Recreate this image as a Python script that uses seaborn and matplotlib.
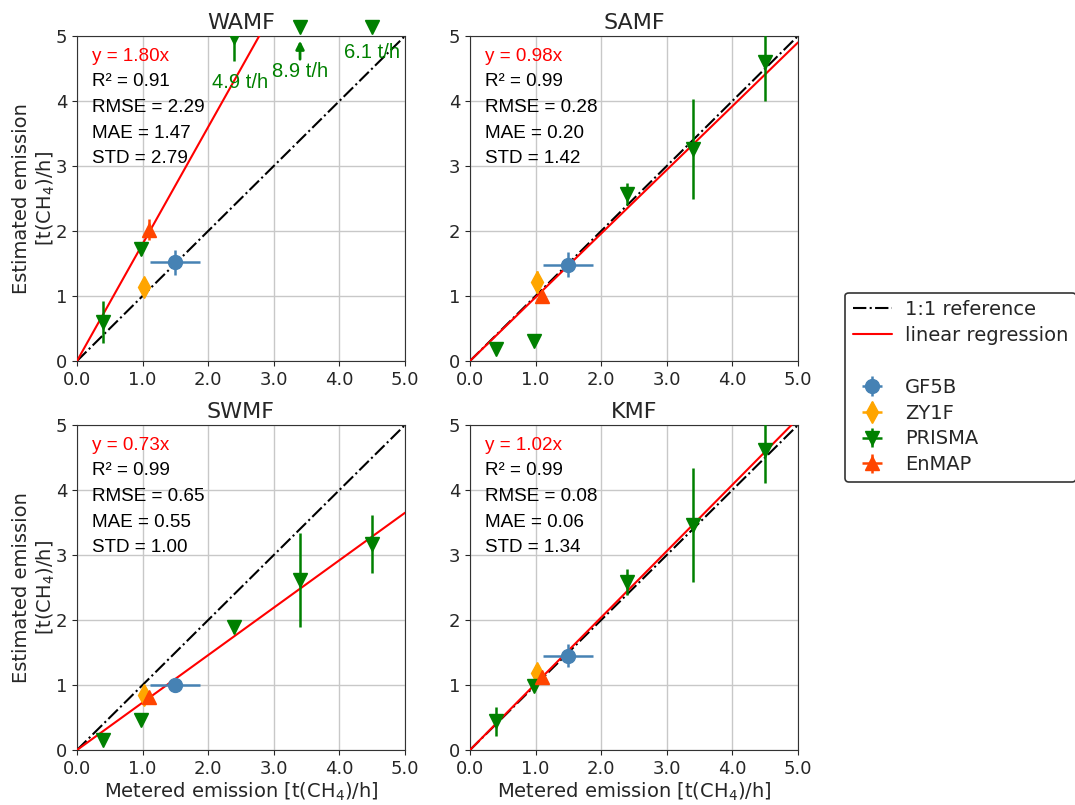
import numpy as np
import pandas as pd
import seaborn as sns
import matplotlib.pyplot as plt
from matplotlib.lines import Line2D

sns.set_style("ticks")
plt.rcParams['font.family'] = ['DejaVu Sans']

sites = ["WAMF", "SAMF", "SWMF", "KMF"]
slopes = [1.80, 0.98, 0.73, 1.02]
r2 = [0.91, 0.99, 0.99, 0.99]
rmse = [2.29, 0.28, 0.65, 0.08]
mae = [1.47, 0.20, 0.55, 0.06]
std = [2.79, 1.42, 1.00, 1.34]

# metered emission (x) per satellite
gf5b_x, gf5b_xerr = [1.50], [0.38]
zy1f_x = [1.02]
enmap_x = [1.10]
prisma_x = [0.40, 0.98, 2.40, 3.40, 4.50]

# estimated emission per site (WAMF, SAMF, SWMF, KMF)
gf5b_y = [1.52, 1.48, 1.00, 1.45]
gf5b_yerr = [0.19, 0.19, 0.10, 0.18]
zy1f_y = [1.14, 1.22, 0.85, 1.18]
zy1f_yerr = [0.10, 0.17, 0.08, 0.10]
enmap_y = [2.02, 1.00, 0.81, 1.12]
enmap_yerr = [0.16, 0.05, 0.05, 0.05]
prisma_y = [[0.60, 1.73, 4.98, 5.14, 5.14],
            [0.18, 0.31, 2.57, 3.26, 4.60],
            [0.15, 0.46, 1.90, 2.62, 3.17],
            [0.44, 0.98, 2.59, 3.46, 4.61]]
prisma_yerr = [[0.32, 0.10, 0.37, 0.0, 0.0],
               [0.02, 0.02, 0.17, 0.77, 0.60],
               [0.02, 0.02, 0.10, 0.72, 0.45],
               [0.22, 0.05, 0.20, 0.88, 0.50]]

# off-scale PRISMA values in WAMF
wamf_notes = ["4.9 t/h", "8.9 t/h", "6.1 t/h"]

sats = ["GF5B", "ZY1F", "PRISMA", "EnMAP"]
colors = {"GF5B": "steelblue", "ZY1F": "orange", "PRISMA": "green", "EnMAP": "orangered"}
markers = {"GF5B": "o", "ZY1F": "d", "PRISMA": "v", "EnMAP": "^"}
msizes = {"GF5B": 10, "ZY1F": 11, "PRISMA": 10, "EnMAP": 10}

fig, axes = plt.subplots(2, 2, figsize=(10.75, 8.05), dpi=100)
fig.subplots_adjust(left=0.0716, right=0.7423, bottom=0.0683, top=0.9553,
                    wspace=0.198, hspace=0.197)
axes = axes.flatten()

txt_font = dict(family=['Liberation Sans', 'DejaVu Sans'], fontsize=13.6)

for i, (ax, site) in enumerate(zip(axes, sites)):
    sns.lineplot(x=[0, 5], y=[0, 5], ax=ax, color='k', linestyle='-.', lw=1.5, zorder=2)
    sns.lineplot(x=[0, 5], y=[0, 5 * slopes[i]], ax=ax, color='red', lw=1.5, zorder=3)

    series = {
        "GF5B": (gf5b_x, [gf5b_y[i]], [gf5b_yerr[i]], gf5b_xerr),
        "ZY1F": (zy1f_x, [zy1f_y[i]], [zy1f_yerr[i]], [0.0]),
        "PRISMA": (prisma_x, prisma_y[i], prisma_yerr[i], [0.0] * 5),
        "EnMAP": (enmap_x, [enmap_y[i]], [enmap_yerr[i]], [0.0]),
    }
    for s in sats:
        x, y, ye, xe = [np.array(v, dtype=float) for v in series[s]]
        inside = y <= 5.0
        ax.errorbar(x[inside], y[inside], yerr=ye[inside], xerr=xe[inside],
                    fmt=markers[s], color=colors[s], ms=msizes[s], elinewidth=1.8,
                    capsize=0, zorder=4)
        if (~inside).any():
            ax.plot(x[~inside], y[~inside], markers[s], color=colors[s],
                    ms=msizes[s], clip_on=False, zorder=5)

    ax.set_xlim(0, 5)
    ax.set_ylim(0, 5)
    ax.set_xticks(np.arange(0, 6, 1))
    ax.set_xticklabels([f"{t:.1f}" for t in np.arange(0, 6, 1)])
    ax.set_yticks(np.arange(0, 6, 1))
    ax.tick_params(labelsize=13)
    ax.grid(True, color='#c8c8c8', lw=1)
    ax.set_axisbelow(True)
    ax.set_title(site, fontsize=16, pad=5)
    for sp in ax.spines.values():
        sp.set_color('#333333')

    lines = [f"y = {slopes[i]:.2f}x", f"R² = {r2[i]:.2f}", f"RMSE = {rmse[i]:.2f}",
             f"MAE = {mae[i]:.2f}", f"STD = {std[i]:.2f}"]
    for k, t in enumerate(lines):
        ax.text(0.045, 0.938 - k * 0.079, t, transform=ax.transAxes, va='center',
                color='red' if k == 0 else 'black', **txt_font)

    if i % 2 == 0:
        ax.set_ylabel("Estimated emission\n[t(CH$_4$)/h]", fontsize=14, labelpad=-1)
    else:
        ax.set_ylabel("")
    if i >= 2:
        ax.set_xlabel("Metered emission [t(CH$_4$)/h]", fontsize=14, labelpad=2)
    else:
        ax.set_xlabel("")

# notes for WAMF off-scale values
ax0 = axes[0]
note_font = dict(family=['Liberation Sans', 'DejaVu Sans'], fontsize=14.5, color='green')
ax0.text(2.48, 4.29, wamf_notes[0], ha='center', va='center', **note_font)
ax0.text(3.40, 4.46, wamf_notes[1], ha='center', va='center', **note_font)
ax0.text(4.50, 4.74, wamf_notes[2], ha='center', va='center', **note_font)
ax0.annotate("", xy=(3.40, 4.97), xytext=(3.40, 4.60),
             arrowprops=dict(arrowstyle='-|>', color='green', lw=2, mutation_scale=12))

# legend
handles = [Line2D([], [], color='k', linestyle='-.', lw=1.5),
           Line2D([], [], color='red', lw=1.5),
           Line2D([], [], color='none')]
labels = ["1:1 reference", "linear regression", ""]
for s in sats:
    h = axes[3].errorbar([], [], xerr=[], yerr=[], fmt=markers[s], color=colors[s],
                         ms=msizes[s], elinewidth=1.8)
    handles.append(h)
    labels.append(s)
leg = fig.legend(handles, labels, loc='center left', bbox_to_anchor=(0.786, 0.519),
                 borderaxespad=0, fontsize=14, frameon=True, fancybox=True,
                 edgecolor='black', handlelength=2.0, borderpad=0.4,
                 labelspacing=0.35, handletextpad=0.7)
leg.get_frame().set_linewidth(1.2)

fig.savefig("out.png", dpi=100)
